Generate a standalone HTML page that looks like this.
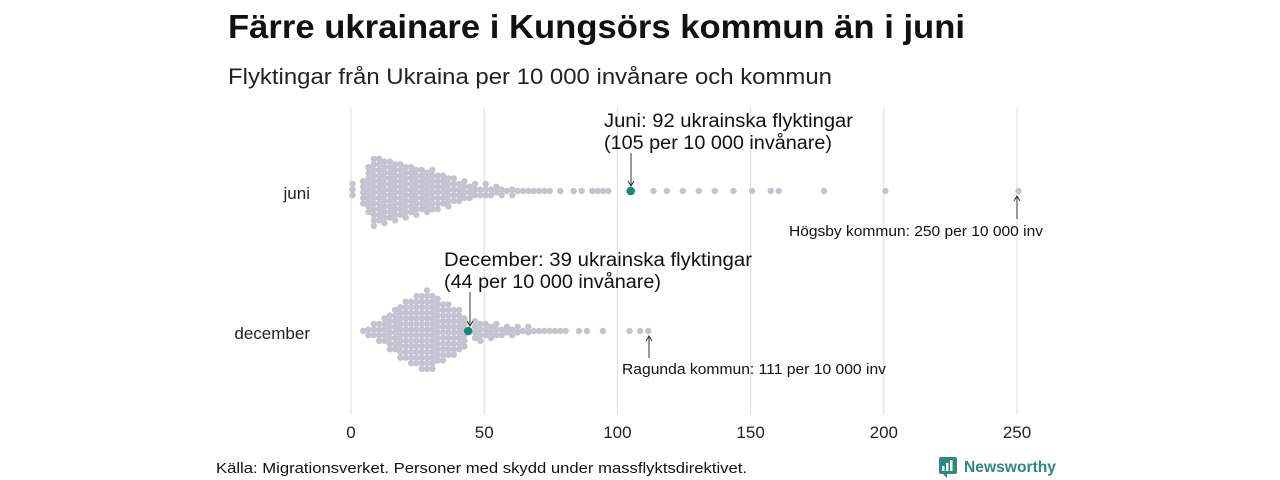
<!DOCTYPE html>
<html><head><meta charset="utf-8"><style>
body{margin:0;background:#fff;width:1280px;height:480px;overflow:hidden;font-family:"Liberation Sans","DejaVu Sans",sans-serif;}
svg{display:block}
</style></head><body>
<svg id="chart" width="1280" height="480">
<text x="228" y="38" font-size="33" font-weight="bold" fill="#111" textLength="737" lengthAdjust="spacingAndGlyphs">Färre ukrainare i Kungsörs kommun än i juni</text>
<text x="228" y="84" font-size="22" fill="#222" textLength="604" lengthAdjust="spacingAndGlyphs">Flyktingar från Ukraina per 10 000 invånare och kommun</text>
<g id="grid"></g><g id="dots"></g>
<text x="310" y="199" font-size="17" text-anchor="end" fill="#222">juni</text>
<text x="310" y="339" font-size="17" text-anchor="end" fill="#222">december</text>
<g fill="none" stroke="#333">
<text x="604" y="127" font-size="19" fill="#111" stroke="none" textLength="249" lengthAdjust="spacingAndGlyphs">Juni: 92 ukrainska flyktingar</text>
<text x="604" y="149" font-size="19" fill="#111" stroke="none" textLength="228" lengthAdjust="spacingAndGlyphs">(105 per 10 000 invånare)</text>
<line x1="631" y1="153" x2="631" y2="186"/><path d="M628 181 L631 186 L634 181"/>
</g>
<g fill="none" stroke="#333">
<text x="444" y="266" font-size="19" fill="#111" stroke="none" textLength="308" lengthAdjust="spacingAndGlyphs">December: 39 ukrainska flyktingar</text>
<text x="444" y="288" font-size="19" fill="#111" stroke="none" textLength="217" lengthAdjust="spacingAndGlyphs">(44 per 10 000 invånare)</text>
<line x1="470" y1="292" x2="470" y2="326"/><path d="M467 321 L470 326 L473 321"/>
</g>
<g fill="none" stroke="#333">
<line x1="1017" y1="219" x2="1017" y2="196"/><path d="M1014 201 L1017 196 L1020 201"/>
<text x="789" y="236" font-size="15" fill="#111" stroke="none" textLength="254" lengthAdjust="spacingAndGlyphs">Högsby kommun: 250 per 10 000 inv</text>
</g>
<g fill="none" stroke="#333">
<line x1="649" y1="358" x2="649" y2="336"/><path d="M646 341 L649 336 L652 341"/>
<text x="622" y="374" font-size="15" fill="#111" stroke="none" textLength="264" lengthAdjust="spacingAndGlyphs">Ragunda kommun: 111 per 10 000 inv</text>
</g>
<g id="ticks"></g>
<text x="216" y="473" font-size="15" fill="#111" textLength="531" lengthAdjust="spacingAndGlyphs">Källa: Migrationsverket. Personer med skydd under massflyktsdirektivet.</text>
<g>
<rect x="939" y="457" width="18" height="17" rx="2" fill="#2a8b7d"/>
<path d="M943 474 l4 4 l0 -4z" fill="#2a8b7d"/>
<rect x="942" y="466" width="2.5" height="5" fill="#fff"/><rect x="946" y="463" width="2.5" height="8" fill="#fff"/><rect x="950" y="460" width="2.5" height="11" fill="#fff"/>
<text x="964" y="472" font-size="16" font-weight="bold" fill="#2a8b7d" textLength="92" lengthAdjust="spacingAndGlyphs">Newsworthy</text>
</g>
</svg>
<script>
const ticks=[0,50,100,150,200,250];
const juniBins=[0,4,6,8,10,12,14,16,18,20,22,24,26,28,30,32,34,36,38,40,42,44,46,48,50,52,54,56,58,60,62,64,66,68,70,72,74,78,83,86,90,92,94,96,113,118,124,130,136,143,150,157,160,177,200,250];
const juniCounts=[3,5,9,13,12,12,11,11,10,10,9,9,8,8,8,7,6,6,5,4,4,3,3,2,3,2,2,2,1,2,1,1,1,1,1,1,1,1,1,1,1,1,1,1,1,1,1,1,1,1,1,1,1,1,1,1];
const decBins=[4,6,8,10,12,14,16,18,20,22,24,26,28,30,32,34,36,38,40,42,46,48,50,52,54,56,58,60,62,64,66,68,70,72,74,76,78,80,85,88,94,104,108,111];
const decCounts=[1,2,3,4,5,7,8,10,11,12,13,14,15,14,12,11,10,9,8,6,4,4,3,3,3,2,2,2,2,1,2,1,1,1,1,1,1,1,1,1,1,1,1,1];
const juniHighlight=105, decHighlight=44;
const x=v=>351+v*(1017-351)/250;
const NS="http://www.w3.org/2000/svg";
const grid=document.getElementById('grid'),tk=document.getElementById('ticks'),dots=document.getElementById('dots');
ticks.forEach(t=>{
 const l=document.createElementNS(NS,'line');
 l.setAttribute('x1',x(t));l.setAttribute('x2',x(t));l.setAttribute('y1',108);l.setAttribute('y2',415);
 l.setAttribute('stroke','#ddd');
 
 
 grid.appendChild(l);
 const tx=document.createElementNS(NS,'text');
 tx.setAttribute('x',x(t));tx.setAttribute('y',438);tx.setAttribute('font-size','17');tx.setAttribute('text-anchor','middle');tx.setAttribute('fill','#222');
 tx.textContent=t;
 
 
 tk.appendChild(tx);
});
function dot(cx,cy,col,r){
 const c=document.createElementNS(NS,'circle');
 c.setAttribute('cx',cx);c.setAttribute('cy',cy);c.setAttribute('r',r);c.setAttribute('fill',col);
 
 
 dots.appendChild(c);
}
function swarm(bins,counts,cy){
 bins.forEach((b,i)=>{
  const n=counts[i];
  for(let k=0;k<n;k++){
   const off=(k-(n-1)/2)*5.6+(i%2?1.4:-1.4)*(n>1?1:0);
   dot(x(b)+1.5,cy+off,'#c5c3d1',3.2);
  }
 });
}
swarm(juniBins,juniCounts,191);
swarm(decBins,decCounts,331);
dot(x(juniHighlight),191,'#13897a',4.3);
dot(x(decHighlight),331,'#13897a',4.3);
</script>
</body></html>
